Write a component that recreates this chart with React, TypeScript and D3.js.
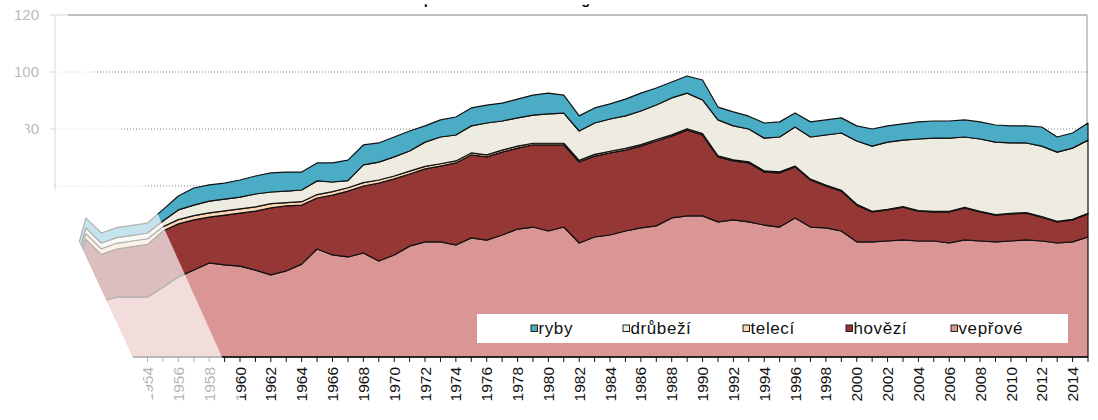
import React from "react";
import * as d3 from "d3";

const years = [
  1948, 1949, 1950, 1951, 1952, 1953, 1954, 1955, 1956, 1957,
  1958, 1959, 1960, 1961, 1962, 1963, 1964, 1965, 1966, 1967,
  1968, 1969, 1970, 1971, 1972, 1973, 1974, 1975, 1976, 1977,
  1978, 1979, 1980, 1981, 1982, 1983, 1984, 1985, 1986, 1987,
  1988, 1989, 1990, 1991, 1992, 1993, 1994, 1995, 1996, 1997,
  1998, 1999, 2000, 2001, 2002, 2003, 2004, 2005, 2006, 2007,
  2008, 2009, 2010, 2011, 2012, 2013, 2014, 2015,
];

const veprove = [
  14, 14, 19, 19.5, 21, 21, 21, 24.5, 28.1, 30.5,
  33, 32.3, 31.9, 30.5, 28.8, 30.2, 32.6, 37.9, 35.8, 35.1,
  36.5, 33.7, 35.8, 38.9, 40.4, 40.4, 39.3, 41.8, 41, 42.8,
  44.9, 45.6, 44.2, 45.6, 40, 42.1, 42.8, 44.2, 45.3, 46,
  48.8, 49.5, 49.5, 47.4, 48.1, 47.4, 46.3, 45.6, 48.8, 45.6,
  45.3, 44.2, 40.4, 40.4, 40.7, 41.1, 40.7, 40.7, 40, 41.1,
  40.7, 40.4, 40.7, 41.1, 40.7, 40, 40.4, 42.1,
];

const hovezi = [
  10, 10.5, 22.3, 16.5, 16.9, 17.7, 18.5, 19.7, 18.6, 17.6,
  16.1, 17.5, 18.6, 20.7, 23.5, 22.8, 20.7, 17.9, 21, 23.1,
  23.5, 27.3, 26.7, 25.3, 25.6, 26.6, 28.8, 29.1, 29.2, 29.1,
  28.4, 28.8, 30.2, 28.8, 28.4, 28.4, 28.8, 28.4, 28.7, 29.8,
  28.7, 30.1, 28.4, 22.8, 20.7, 20.7, 18.6, 19, 17.9, 16.5,
  14.7, 14, 12.9, 10.5, 10.9, 11.5, 10.5, 10.2, 10.9, 11.2,
  10.2, 9.4, 9.5, 9.4, 8.4, 7.4, 7.7, 8.1,
];

const teleci = [
  1, 1, 2, 2, 2, 2, 2, 1.5, 1.5, 1.5,
  1.5, 1.5, 1.5, 1.5, 1.5, 1.2, 1.2, 1.2, 1.2, 1.2,
  1.2, 1.1, 1, 1, 0.9, 0.8, 0.7, 0.7, 0.7, 0.7,
  0.7, 0.6, 0.6, 0.6, 0.6, 0.6, 0.6, 0.6, 0.5, 0.5,
  0.5, 0.5, 0.5, 0.4, 0.4, 0.4, 0.4, 0.4, 0.3, 0.3,
  0.3, 0.3, 0.3, 0.2, 0.2, 0.2, 0.2, 0.2, 0.2, 0.2,
  0.2, 0.2, 0.2, 0.2, 0.2, 0.2, 0.2, 0.2,
];

const drubezi = [
  1.5, 1.5, 2, 2, 2, 2, 2, 2, 3.4, 3.7,
  4.1, 4.1, 4.1, 4.5, 4.1, 4, 4.1, 4.8, 3.4, 2.5,
  6.2, 6.3, 6.7, 7.1, 8.5, 9.4, 9.1, 9.5, 11.2, 10.2,
  9.9, 9.9, 10.3, 10.6, 10.3, 11, 11.3, 11.4, 11.8, 12.1,
  12.9, 12.5, 11.8, 12.6, 11.9, 11.5, 11.5, 12.2, 13.7, 14.8,
  17.6, 20.1, 22.2, 22.9, 23.6, 23.3, 25.1, 25.7, 25.7, 24.7,
  25.4, 25.4, 24.7, 24.4, 24.7, 24.3, 25, 25.7,
];

const ryby = [
  2, 2, 3.5, 3.5, 3.5, 3.5, 3.5, 4, 4.9, 6,
  5.7, 5.6, 6, 6.3, 6.7, 6.7, 6.3, 6.3, 6.7, 7.2,
  7, 6.7, 7, 7, 5.7, 6, 6.3, 6.3, 6.3, 6.3,
  6.6, 7, 7.3, 6.3, 5.3, 5.3, 5.3, 5.9, 6.3, 6,
  5.6, 6, 7, 4.5, 4.9, 4.5, 5.3, 5.3, 4.9, 5.3,
  5.3, 5.3, 5.3, 6, 5.7, 5.7, 6, 6, 6, 6,
  6, 6, 6, 6, 6.7, 5.3, 5.3, 6,
];

const seriesKeys = ["veprove", "hovezi", "teleci", "drubezi", "ryby"];
const seriesNames = ["vepřové", "hovězí", "telecí", "drůbeží", "ryby"];
const seriesColors = ["#D99694", "#953735", "#FCD5B5", "#EEECE1", "#4BACC6"];
const legendOrder = [4, 3, 2, 1, 0];
const yTicks = [0, 20, 40, 60, 80, 100, 120];
const xLabelYears = years.filter((y) => y % 2 === 0);
const title = "Spotřeba masa v ČR v kg na osobu";

const W = 1098;
const H = 420;
const plotLeft = 55;
const plotRight = 1088;
const plotTop = 15;
const plotBottom = 357;

// page-fold effect geometry
const maskX = (y: number) => 133 - 0.465 * (357 - y);
const foldX = (y: number) => 222 - 0.45 * (357 - y);

export default function App() {
  const x = d3.scaleLinear().domain([1948, 2015]).range([plotLeft, plotRight]);
  const y = d3.scaleLinear().domain([0, 120]).range([plotBottom, plotTop]);

  const rows = years.map((yr, i) => ({
    year: yr,
    veprove: veprove[i],
    hovezi: hovezi[i],
    teleci: teleci[i],
    drubezi: drubezi[i],
    ryby: ryby[i],
  }));
  const stacked = d3.stack<any>().keys(seriesKeys)(rows);
  const area = d3
    .area<any>()
    .x((d) => x(d.data.year))
    .y0((d) => y(d[0]))
    .y1((d) => y(d[1]));

  const font = "'Liberation Sans', Arial, sans-serif";
  const yTop = -20;
  const yBot = 440;
  const maskPts = [
    [maskX(yTop), yTop],
    [maskX(yBot), yBot],
    [-200, yBot],
    [-200, yTop],
  ];
  const fadePts = [
    [maskX(yTop), yTop],
    [foldX(yTop), yTop],
    [foldX(yBot), yBot],
    [maskX(yBot), yBot],
  ];
  const pts = (p: number[][]) => p.map((q) => q.join(",")).join(" ");

  const legendItemsX = [531, 623, 743, 846, 951];

  return (
    <div style={{ position: "absolute", left: 0, top: 0 }}>
      <svg width={W} height={H} style={{ display: "block", background: "#fff" }}>
        {/* title: only its descenders show below the top edge of the picture */}
        <text x={414} y={4.3} fontFamily={font} fontWeight="bold" fontSize={14.7} fill="#000">
          {title}
        </text>
        <rect x={0} y={0} width={W} height={4.3} fill="#fff" />

        {/* gridlines */}
        {yTicks
          .filter((t) => t > 0 && t < 120)
          .map((t) => (
            <line
              key={"g" + t}
              x1={plotLeft}
              x2={plotRight}
              y1={y(t)}
              y2={y(t)}
              stroke="#808080"
              strokeWidth={1}
              strokeDasharray="1 2"
            />
          ))}
        {/* plot border top/right */}
        <line x1={plotLeft} x2={plotRight - 1} y1={plotTop} y2={plotTop} stroke="#ABABAB" strokeWidth={1.3} />
        <line x1={plotRight - 1} x2={plotRight - 1} y1={plotTop} y2={plotBottom} stroke="#ABABAB" strokeWidth={1.3} />
        {/* y axis */}
        <line x1={plotLeft} x2={plotLeft} y1={plotTop} y2={plotBottom} stroke="#8A8A8A" strokeWidth={1} />
        {yTicks.map((t) => (
          <g key={"yt" + t}>
            <line x1={plotLeft - 5} x2={plotLeft} y1={y(t)} y2={y(t)} stroke="#8A8A8A" />
            <text
              x={plotLeft - 16}
              y={y(t)}
              dy="0.35em"
              textAnchor="end"
              fontFamily={font}
              fontSize={15}
              fill="#222"
            >
              {t}
            </text>
          </g>
        ))}

        {/* stacked areas */}
        {stacked.map((s, i) => (
          <path
            key={s.key}
            d={area(s as any) || ""}
            fill={seriesColors[i]}
            stroke="#111"
            strokeWidth={1.2}
            strokeLinejoin="round"
          />
        ))}

        {/* x axis */}
        <line x1={plotLeft} x2={plotRight} y1={plotBottom} y2={plotBottom} stroke="#111" strokeWidth={1.3} />
        {years.map((yr) => (
          <line key={"xt" + yr} x1={x(yr)} x2={x(yr)} y1={plotBottom} y2={plotBottom + 5} stroke="#111" />
        ))}
        {xLabelYears.map((yr) => (
          <text
            key={"xl" + yr}
            transform={`translate(${x(yr)},${plotBottom + 10}) rotate(-90)`}
            dy="0.36em"
            textAnchor="end"
            fontFamily={font}
            fontSize={15.5}
            fill="#111"
          >
            {yr}
          </text>
        ))}

        {/* legend */}
        <rect x={477} y={314} width={591} height={29} fill="#fff" />
        {legendOrder.map((si, k) => (
          <g key={"lg" + si}>
            <rect
              x={legendItemsX[k]}
              y={325}
              width={6.5}
              height={6.5}
              fill={seriesColors[si]}
              stroke="#222"
              strokeWidth={1}
            />
            <text
              x={legendItemsX[k] + 7.5}
              y={334}
              fontFamily={font}
              fontSize={17}
              letterSpacing={0.6}
              fill="#111"
            >
              {seriesNames[si]}
            </text>
          </g>
        ))}

        {/* page fold: faded strip and hidden part */}
        <polygon points={pts(fadePts)} fill="#fff" fillOpacity={0.68} />
        <polygon points={pts(maskPts)} fill="#fff" />
      </svg>
    </div>
  );
}
